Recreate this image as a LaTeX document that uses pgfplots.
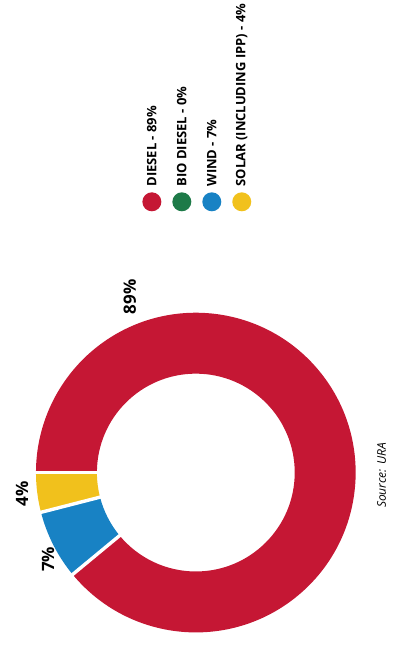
\documentclass[border=0pt]{standalone}
\usepackage{fontspec}
\setmainfont{Open Sans}
\usepackage{pgfplots}
\pgfplotsset{compat=1.18}
\usepackage{pgfplotstable}
\definecolor{cDiesel}{RGB}{197,23,52}
\definecolor{cBio}{RGB}{30,122,72}
\definecolor{cWind}{RGB}{24,130,196}
\definecolor{cSolar}{RGB}{241,193,28}
% share of electricity generation (percent)
\pgfplotstableread{
name value
Solar 4
Wind 7
Diesel 89
}\sharetable
\pgfplotstablegetelem{0}{value}\of\sharetable \let\vSolar\pgfplotsretval
\pgfplotstablegetelem{1}{value}\of\sharetable \let\vWind\pgfplotsretval
\pgfplotstablegetelem{2}{value}\of\sharetable \let\vDiesel\pgfplotsretval
\pgfmathsetmacro{\aA}{180}
\pgfmathsetmacro{\aB}{\aA+3.6*\vSolar}
\pgfmathsetmacro{\aC}{\aB+3.6*\vWind}
\pgfmathsetmacro{\aD}{\aC+3.6*\vDiesel}
\def\cx{196}\def\cy{179}\def\Ro{160}\def\Ri{99}
\newcommand{\slice}[3]{%
  \fill[#1] (axis cs:{\cx+\Ro*cos(#2)},{\cy+\Ro*sin(#2)}) arc[start angle=#2,end angle=#3,radius=\Ro]
   -- (axis cs:{\cx+\Ri*cos(#3)},{\cy+\Ri*sin(#3)}) arc[start angle=#3,end angle=#2,radius=\Ri] -- cycle;
}
\newcommand{\gap}[1]{%
  \draw[white,line width=1.7pt] (axis cs:{\cx+(\Ri-3)*cos(#1)},{\cy+(\Ri-3)*sin(#1)}) -- (axis cs:{\cx+(\Ro+3)*cos(#1)},{\cy+(\Ro+3)*sin(#1)});
}
\begin{document}
\begin{tikzpicture}
\begin{axis}[scale only axis, width=195pt, height=326pt,
  xmin=0, xmax=390, ymin=0, ymax=652, hide axis, clip=false]
\path (axis cs:0,0) rectangle (axis cs:390,652);
\slice{cSolar}{\aA}{\aB}
\slice{cWind}{\aB}{\aC}
\slice{cDiesel}{\aC}{\aD}
\gap{\aA}
\gap{\aB}
\gap{\aC}
% percentage labels
\node[rotate=90,font=\bfseries\fontsize{8.5}{10}\selectfont] at (axis cs:130,355) {89\%};
\node[rotate=90,font=\bfseries\fontsize{8.5}{10}\selectfont] at (axis cs:22,158) {4\%};
\node[rotate=90,font=\bfseries\fontsize{8.5}{10}\selectfont] at (axis cs:48,92) {7\%};
% legend
\fill[cDiesel] (axis cs:152,450) circle[radius=9.5];
\fill[cBio] (axis cs:182,450) circle[radius=9.5];
\fill[cWind] (axis cs:212,450) circle[radius=9.5];
\fill[cSolar] (axis cs:242,450) circle[radius=9.5];
\node[rotate=90,anchor=west,inner sep=0pt,font=\bfseries\fontsize{6.5}{8}\selectfont] at (axis cs:152,465) {DIESEL - 89\%};
\node[rotate=90,anchor=west,inner sep=0pt,font=\bfseries\fontsize{6.5}{8}\selectfont] at (axis cs:182,465) {BIO DIESEL - 0\%};
\node[rotate=90,anchor=west,inner sep=0pt,font=\bfseries\fontsize{6.5}{8}\selectfont] at (axis cs:212,465) {WIND - 7\%};
\node[rotate=90,anchor=west,inner sep=0pt,font=\bfseries\fontsize{6.5}{8}\selectfont] at (axis cs:242,465) {SOLAR (INCLUDING IPP) - 4\%};
% source
\node[rotate=90,font=\itshape\fontsize{6}{7}\selectfont] at (axis cs:382,176) {Source: URA};
\end{axis}
\end{tikzpicture}
\end{document}
